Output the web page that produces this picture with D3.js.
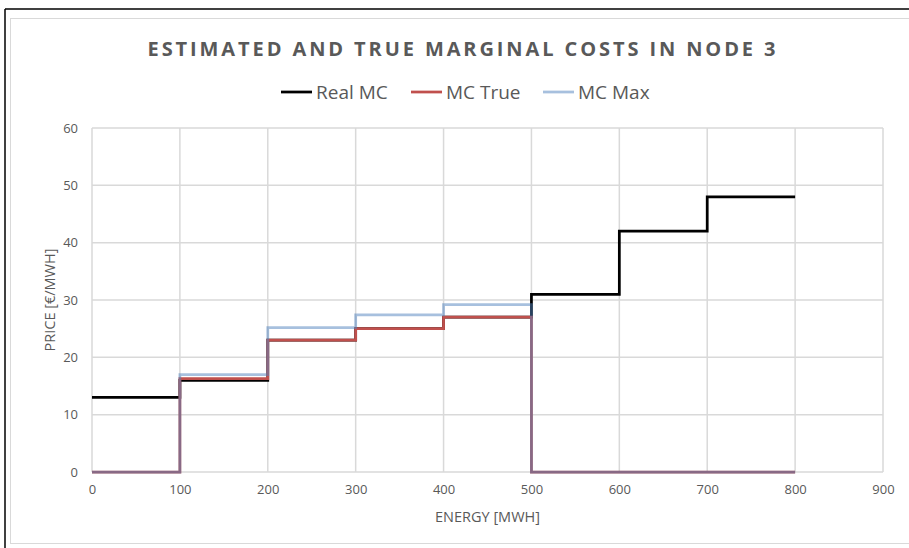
<!DOCTYPE html>
<html lang="en">
<head>
    <meta charset="utf-8">
    <title>Estimated and true marginal costs in node 3</title>
    <script src="https://d3js.org/d3.v7.min.js"></script>
    <style>
        body { margin: 0; background: #fff; }
        text { font-family: "Open Sans", "Liberation Sans", sans-serif; fill: #595959; }
    </style>
</head>
<body>
    <div id="chart"></div>
    <script>
        // step breakpoints (MWh) and the price held from each one
        const energy = [0, 100, 200, 300, 400, 500, 600, 700, 800];
        const realMC = [13, 16, 23, 25, 27, 31, 42, 48, 48];
        const mcTrue = [0, 16.3, 23, 25, 27, 0, 0, 0, 0];
        const mcMax = [0, 17, 25.2, 27.4, 29.2, 0, 0, 0, 0];

        const xTicks = [0, 100, 200, 300, 400, 500, 600, 700, 800, 900];
        const yTicks = [0, 10, 20, 30, 40, 50, 60];

        const seriesNames = ["Real MC", "MC True", "MC Max"];
        const seriesValues = [realMC, mcTrue, mcMax];
        const seriesColors = ["#000000", "#C0504D", "rgba(79,129,189,0.5)"];

        const W = 909, H = 548;
        const plot = { left: 92, right: 883, top: 128, bottom: 472 };

        const svg = d3.select("#chart")
            .append("svg")
            .attr("width", W)
            .attr("height", H);

        // outer frame (black top/left) and chart area border
        svg.append("rect")
            .attr("x", 10.5).attr("y", 18.5)
            .attr("width", 910).attr("height", 525)
            .attr("fill", "#fff")
            .attr("stroke", "#d9d9d9")
            .attr("stroke-width", 1);
        svg.append("line")
            .attr("x1", 5).attr("x2", W).attr("y1", 9).attr("y2", 9)
            .attr("stroke", "#000").attr("stroke-width", 1.5);
        svg.append("line")
            .attr("x1", 5).attr("x2", 5).attr("y1", 9).attr("y2", H)
            .attr("stroke", "#000").attr("stroke-width", 1.5);

        const x = d3.scaleLinear().domain([0, 900]).range([plot.left, plot.right]);
        const y = d3.scaleLinear().domain([0, 60]).range([plot.bottom, plot.top]);

        // gridlines
        svg.append("g")
            .selectAll("line")
            .data(yTicks)
            .join("line")
            .attr("x1", plot.left).attr("x2", plot.right)
            .attr("y1", d => y(d)).attr("y2", d => y(d))
            .attr("stroke", "#d9d9d9").attr("stroke-width", 1.5);
        svg.append("g")
            .selectAll("line")
            .data(xTicks)
            .join("line")
            .attr("x1", d => x(d)).attr("x2", d => x(d))
            .attr("y1", plot.top).attr("y2", plot.bottom)
            .attr("stroke", "#d9d9d9").attr("stroke-width", 1.5);

        // axes (labels only, Excel style)
        const xAxis = svg.append("g")
            .attr("transform", `translate(0,${plot.bottom})`)
            .call(d3.axisBottom(x).tickValues(xTicks).tickSize(0).tickPadding(13));
        const yAxis = svg.append("g")
            .attr("transform", `translate(${plot.left},0)`)
            .call(d3.axisLeft(y).tickValues(yTicks).tickSize(0).tickPadding(14));
        [xAxis, yAxis].forEach(a => {
            a.select(".domain").remove();
            a.selectAll("text")
                .style("font-family", "'Open Sans', sans-serif")
                .style("font-size", "13px")
                .attr("fill", "#595959");
        });

        // step lines
        const line = d3.line()
            .x(d => x(d[0]))
            .y(d => y(d[1]))
            .curve(d3.curveStepAfter);

        seriesValues.forEach((vals, i) => {
            svg.append("path")
                .datum(energy.map((e, j) => [e, vals[j]]))
                .attr("d", line)
                .attr("fill", "none")
                .attr("stroke", seriesColors[i])
                .attr("stroke-width", 2.75);
        });

        // title
        svg.append("text")
            .attr("x", 463).attr("y", 56)
            .attr("text-anchor", "middle")
            .style("font-size", "20px")
            .style("font-weight", "bold")
            .style("letter-spacing", "2.9px")
            .text("ESTIMATED AND TRUE MARGINAL COSTS IN NODE 3");

        // legend
        const legendX = [281, 411, 543];
        const legend = svg.append("g")
            .selectAll("g")
            .data(seriesNames)
            .join("g")
            .attr("transform", (d, i) => `translate(${legendX[i]},92)`);
        legend.append("line")
            .attr("x1", 0).attr("x2", 31)
            .attr("stroke", (d, i) => seriesColors[i])
            .attr("stroke-width", 2.75);
        legend.append("text")
            .attr("x", 35).attr("y", 7)
            .style("font-size", "19px")
            .text(d => d);

        // axis titles
        svg.append("text")
            .attr("x", (plot.left + plot.right) / 2).attr("y", 522)
            .attr("text-anchor", "middle")
            .style("font-size", "14.5px")
            .text("ENERGY [MWH]");
        svg.append("text")
            .attr("transform", `translate(55,${(plot.top + plot.bottom) / 2}) rotate(-90)`)
            .attr("text-anchor", "middle")
            .style("font-size", "14.5px")
            .text("PRICE [€/MWH]");
    </script>
</body>
</html>
